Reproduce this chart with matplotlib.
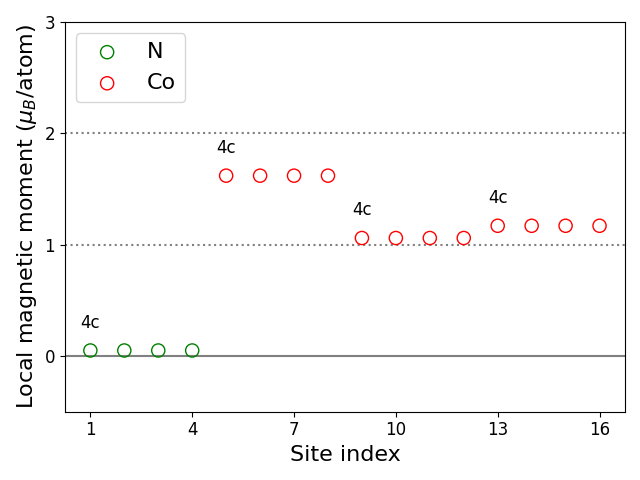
import numpy as np
import matplotlib.pyplot as plt

# site indices and local moments (mu_B/atom)
n_sites = [1, 2, 3, 4]
n_moments = [0.05, 0.05, 0.05, 0.05]

co_sites = [5, 6, 7, 8, 9, 10, 11, 12, 13, 14, 15, 16]
co_moments = [1.62, 1.62, 1.62, 1.62, 1.06, 1.06, 1.06, 1.06, 1.17, 1.17, 1.17, 1.17]

# Wyckoff labels placed above the first site of each group
wyck_sites = [1, 5, 9, 13]
wyck_labels = ["4c", "4c", "4c", "4c"]

fig, ax = plt.subplots(figsize=(6.4, 4.8))

ax.axhline(0, color="gray", lw=1.5)
ax.axhline(1, color="gray", ls=":", lw=1.5)
ax.axhline(2, color="gray", ls=":", lw=1.5)

ax.scatter(n_sites, n_moments, s=90, facecolors="none", edgecolors="green", label="N", zorder=3)
ax.scatter(co_sites, co_moments, s=90, facecolors="none", edgecolors="red", label="Co", zorder=3)

all_sites = n_sites + co_sites
all_moments = n_moments + co_moments
for s, lab in zip(wyck_sites, wyck_labels):
    m = all_moments[all_sites.index(s)]
    ax.text(s, m + 0.17, lab, fontsize=12, ha="center", va="bottom")

ax.set_ylim(-0.5, 3)
ax.set_yticks([0, 1, 2, 3])
ax.set_xticks([1, 4, 7, 10, 13, 16])
ax.tick_params(labelsize=12)
ax.set_xlabel("Site index", fontsize=16)
ax.set_ylabel(r"Local magnetic moment ($\mu_B$/atom)", fontsize=16)
ax.legend(loc="upper left", fontsize=16)

plt.tight_layout()
plt.savefig("out.png", dpi=100)
